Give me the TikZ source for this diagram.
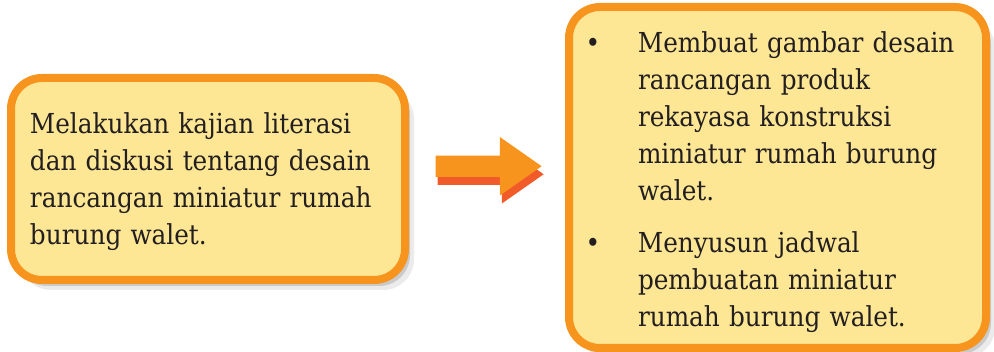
\documentclass[tikz,border=0pt]{standalone}
\usepackage{fontspec}
\setmainfont{DejaVu Serif Condensed}
\usepackage{tikz}
\usetikzlibrary{calc,shapes.arrows,shadows}
\definecolor{Ink}{HTML}{231F20}
\definecolor{BoxFill}{HTML}{FDE694}
\definecolor{BoxLine}{HTML}{F7941D}
\definecolor{ArrowTop}{HTML}{F7941D}
\definecolor{ArrowSide}{HTML}{F15A29}
\newcommand{\butir}{\makebox[14pt][c]{\textbullet}}
\tikzset{
  kotak/.style={
    fill=BoxFill,
    draw=BoxLine,
    line width=8pt,
    rounded corners=31pt,
    inner ysep=0pt,
    align=left,
    text=Ink,
    font=\fontsize{27.5}{37}\selectfont,
    drop shadow={shadow xshift=5pt, shadow yshift=-6pt, opacity=.14, fill=black},
    drop shadow={shadow xshift=9pt, shadow yshift=-10pt, opacity=.08, fill=black}
  },
  panah/.style={
    single arrow,
    single arrow tip angle=70,
    single arrow head extend=18.5pt,
    single arrow head indent=0pt,
    minimum height=106pt,
    inner xsep=0pt,
    inner ysep=10.5pt
  }
}

\begin{document}
\begin{tikzpicture}[x=1pt,y=-1pt]
        \useasboundingbox (0,0) rectangle (994,352);
        \node[
          kotak,
          minimum width=394pt,
          minimum height=202pt,
          inner xsep=19pt,
          text width=356pt
        ] (kajian) at (208,179) {\raisebox{-2.5pt}[\height][\depth]{%
          \begin{tabular}{@{}l@{}}
            Melakukan kajian literasi\\
            dan diskusi tentang desain\\
            rancangan miniatur rumah\\
            burung walet.
          \end{tabular}}};
        \node[
          kotak,
          minimum width=417pt,
          minimum height=341pt,
          inner xsep=17pt,
          text width=383pt
        ] (rencana) at (777.5,177.5) {\raisebox{-4.5pt}[\height][\depth]{%
          \begin{tabular}{@{}p{52pt}@{}l@{}}
            \butir & Membuat gambar desain\\
                   & rancangan produk\\
                   & rekayasa konstruksi\\
                   & miniatur rumah burung\\
                   & walet.\\[15pt]
            \butir & Menyusun jadwal\\
                   & pembuatan miniatur\\
                   & rumah burung walet.
          \end{tabular}}};
        % panah tiga dimensi di antara kedua kotak
        \coordinate (tengah) at ($(kajian.east)!0.5!(rencana.west)+(-6,-12)$);
        \node[panah, fill=ArrowSide] (sisi) at ($(tengah)+(2,8)$) {};
        \node[panah, fill=ArrowTop] (arah) at (tengah) {};
      \end{tikzpicture}
\end{document}
